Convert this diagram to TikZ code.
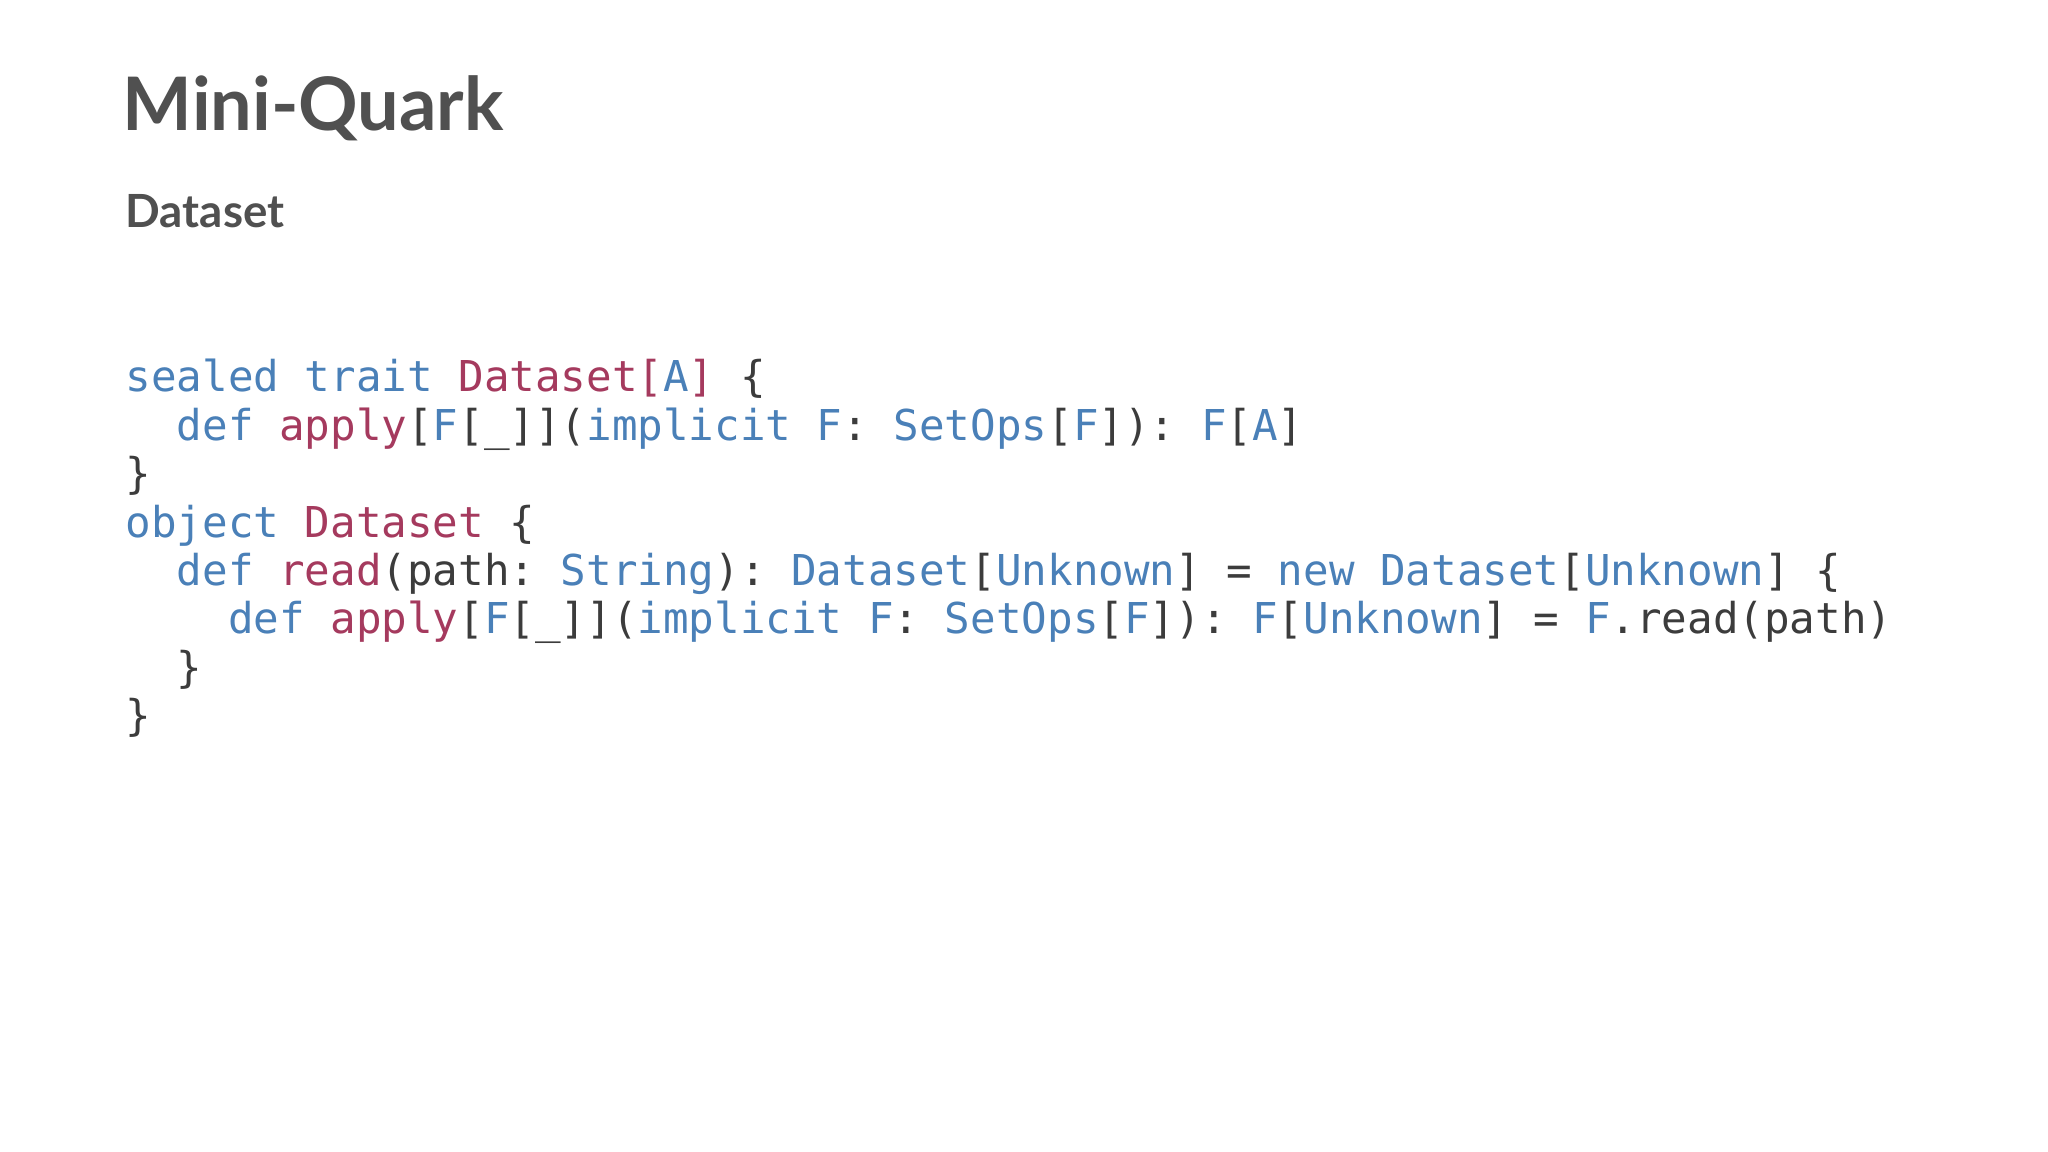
\documentclass[tikz,border=0pt]{standalone}
\usepackage{fontspec}
\setmainfont{Lato}
\setmonofont{DejaVu Sans Mono}
\definecolor{tg}{HTML}{505050}
\definecolor{cb}{HTML}{4A80B8}
\definecolor{cr}{HTML}{A53A5E}
\definecolor{cg}{HTML}{3C3C3C}
\newcommand{\B}[1]{\textcolor{cb}{#1}}
\newcommand{\R}[1]{\textcolor{cr}{#1}}
\tikzset{codeline/.style={anchor=base west,inner sep=0pt,font=\ttfamily\fontsize{12.1}{14}\selectfont,text=cg}}
\begin{document}
\begin{tikzpicture}
\useasboundingbox[fill=white] (0,0) rectangle (20.48,11.52);
\node[anchor=base west,inner sep=0pt,text=tg,font=\bfseries\fontsize{21}{24}\selectfont] (title) at (1.22,10.21) {Mini-Quark};
\node[anchor=base west,inner sep=0pt,text=tg,font=\bfseries\fontsize{13}{16}\selectfont] (sub) at (1.25,9.24) {Dataset};
\foreach \i/\t in {
0/{\B{sealed trait} \R{Dataset[}\B{A}\R{]} \{},
1/{\ \ \B{def} \R{apply}[\B{F}[\_]](\B{implicit F}: \B{SetOps}[\B{F}]): \B{F}[\B{A}]},
2/{\}},
3/{\B{object} \R{Dataset} \{},
4/{\ \ \B{def} \R{read}(path: \B{String}): \B{Dataset}[\B{Unknown}] = \B{new Dataset}[\B{Unknown}] \{},
5/{\ \ \ \ \B{def} \R{apply}[\B{F}[\_]](\B{implicit F}: \B{SetOps}[\B{F}]): \B{F}[\B{Unknown}] = \B{F}.read(path)},
6/{\ \ \}},
7/{\}}}
{\node[codeline] (l\i) at (1.25,7.6-0.4835*\i) {\t};}
\end{tikzpicture}
\end{document}
